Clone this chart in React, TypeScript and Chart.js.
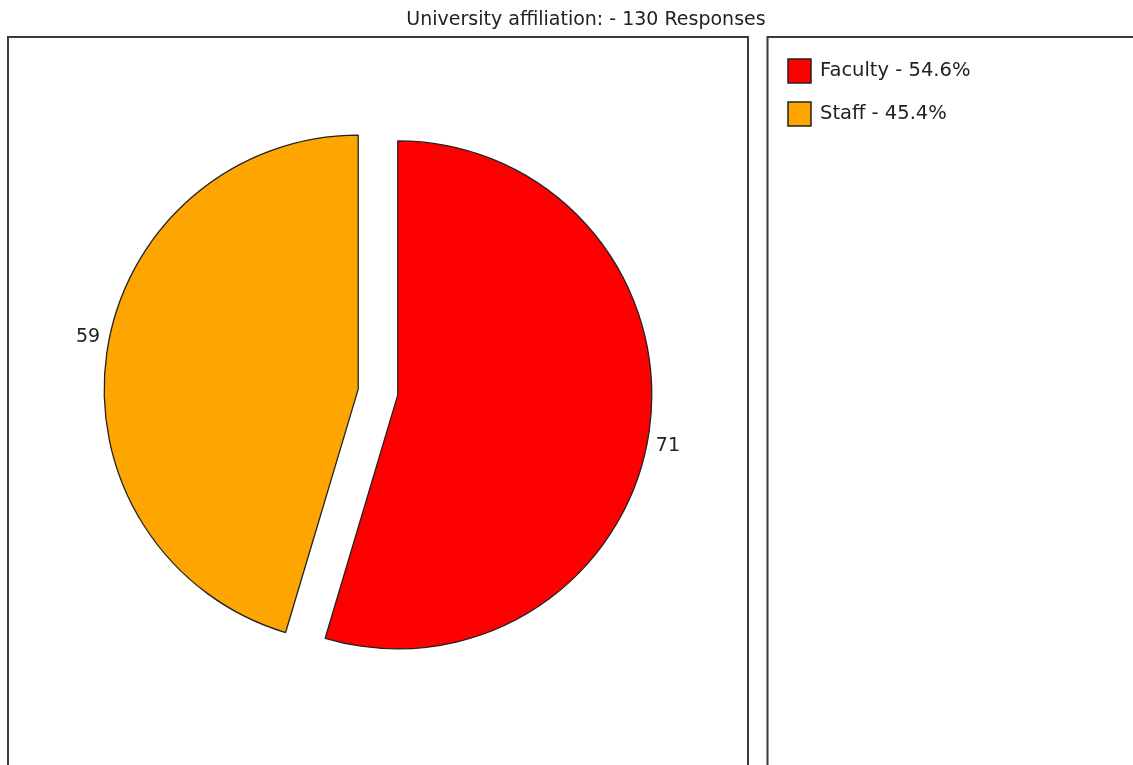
import React, { useEffect, useRef } from "react";
import { Chart, registerables, ArcElement } from "chart.js";

Chart.register(...registerables);

const titleText = "University affiliation: - 130 Responses";
const categories = ["Faculty", "Staff"];
const counts = [71, 59];
const sliceColors = ["#FF0000", "#FFA500"];
const legendLabels = ["Faculty - 54.6%", "Staff - 45.4%"];

const FONT = "DejaVu Sans";
const EXPLODE = 20; // px each slice is pulled out along its mid angle

const decorPlugin = {
  id: "decor",
  beforeDraw(chart: any) {
    const ctx = chart.ctx;
    ctx.save();
    ctx.fillStyle = "#ffffff";
    ctx.fillRect(0, 0, chart.width, chart.height);
    // panels
    ctx.strokeStyle = "#3a3a3a";
    ctx.lineWidth = 2;
    ctx.beginPath();
    ctx.moveTo(8, 800);
    ctx.lineTo(8, 37);
    ctx.lineTo(748, 37);
    ctx.lineTo(748, 800);
    ctx.stroke();
    ctx.beginPath();
    ctx.moveTo(767.5, 800);
    ctx.lineTo(767.5, 37);
    ctx.lineTo(1140, 37);
    ctx.stroke();
    // title
    ctx.fillStyle = "#222222";
    ctx.font = `19px "${FONT}"`;
    ctx.textAlign = "center";
    ctx.textBaseline = "middle";
    ctx.fillText(titleText, 586, 20);
    // legend
    ctx.textAlign = "left";
    ctx.font = `19.5px "${FONT}"`;
    legendLabels.forEach((lbl, i) => {
      const y = 59 + i * 43;
      ctx.fillStyle = sliceColors[i];
      ctx.fillRect(788, y, 23, 24);
      ctx.strokeStyle = "#222222";
      ctx.lineWidth = 1.5;
      ctx.strokeRect(788, y, 23, 24);
      ctx.fillStyle = "#222222";
      ctx.fillText(lbl, 820, y + 12);
    });
    ctx.restore();
  },
  beforeDatasetsDraw(chart: any) {
    const meta = chart.getDatasetMeta(0);
    meta.data.forEach((arc: any) => {
      if (arc.__exploded) return;
      arc.__exploded = true;
      arc.draw = function (ctx: CanvasRenderingContext2D) {
        const mid = (this.startAngle + this.endAngle) / 2;
        ctx.save();
        ctx.translate(Math.cos(mid) * EXPLODE, Math.sin(mid) * EXPLODE);
        ArcElement.prototype.draw.call(this, ctx);
        ctx.restore();
      };
    });
  },
  afterDatasetsDraw(chart: any) {
    const ctx = chart.ctx;
    const meta = chart.getDatasetMeta(0);
    ctx.save();
    ctx.font = `19px "${FONT}"`;
    ctx.fillStyle = "#222222";
    ctx.textAlign = "center";
    ctx.textBaseline = "middle";
    meta.data.forEach((arc: any, i: number) => {
      const { x, y, startAngle, endAngle, outerRadius } = arc.getProps(
        ["x", "y", "startAngle", "endAngle", "outerRadius"],
        true
      );
      const mid = (startAngle + endAngle) / 2;
      const lab = mid + (2.5 * Math.PI) / 180;
      const r = outerRadius + 21;
      const cx = x + Math.cos(mid) * EXPLODE;
      const cy = y + Math.sin(mid) * EXPLODE;
      ctx.fillText(String(counts[i]), cx + Math.cos(lab) * r, cy + Math.sin(lab) * r);
    });
    ctx.restore();
  },
};

export default function App() {
  const ref = useRef<HTMLCanvasElement>(null);
  useEffect(() => {
    if (!ref.current) return;
    const chart = new Chart(ref.current, {
      type: "pie",
      data: {
        labels: categories,
        datasets: [
          {
            data: counts,
            backgroundColor: sliceColors,
            borderColor: "#222222",
            borderWidth: 1.3,
            offset: 0,
            hoverOffset: 0,
          },
        ],
      },
      options: {
        animation: false,
        responsive: false,
        maintainAspectRatio: false,
        radius: 254,
        layout: { padding: { left: 0, right: 377, top: 19, bottom: 0 } },
        plugins: {
          legend: { display: false },
          title: { display: false },
          tooltip: { enabled: false },
        },
        events: [],
      } as any,
      plugins: [decorPlugin],
    });
    return () => chart.destroy();
  }, []);
  return (
    <div style={{ position: "absolute", left: 0, top: 0, width: 1133, height: 765 }}>
      <canvas ref={ref} width={1133} height={765} style={{ display: "block" }} />
    </div>
  );
}
